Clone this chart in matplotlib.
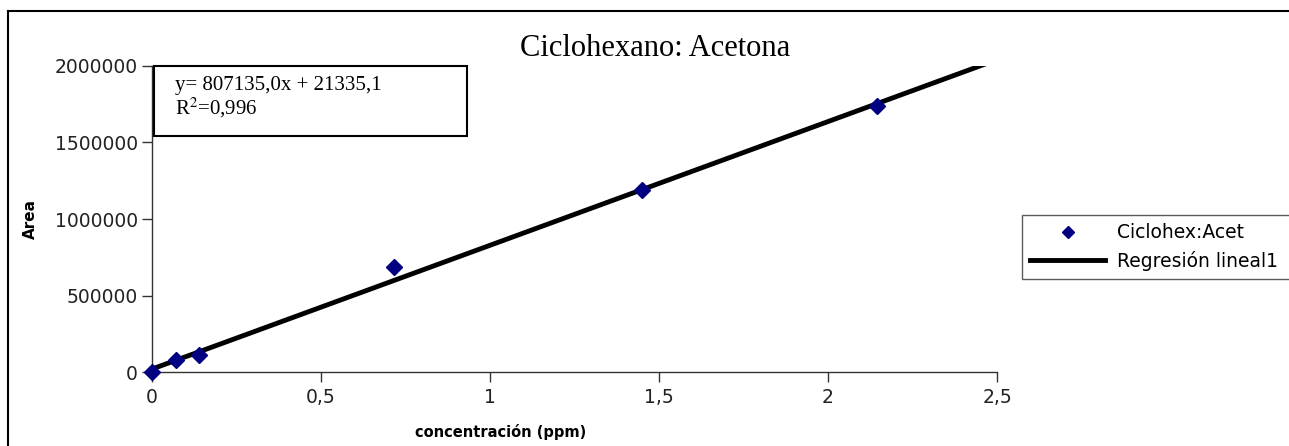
import numpy as np
import matplotlib
matplotlib.use('Agg')
import matplotlib.pyplot as plt
from matplotlib.lines import Line2D

# data
conc = [0.0, 0.071, 0.139, 0.717, 1.449, 2.145]
area = [0, 80000, 111000, 689000, 1190000, 1735000]
slope = 807135.0
intercept = 21335.1
x_ticks = [0, 0.5, 1, 1.5, 2, 2.5]
x_labels = ['0', '0,5', '1', '1,5', '2', '2,5']
y_ticks = [0, 500000, 1000000, 1500000, 2000000]

fig = plt.figure(figsize=(12.89, 4.46), dpi=100)
ax = fig.add_axes([0.1179, 0.1652, 0.6556, 0.6875])

fit_x = np.array([0, 2.5])
ax.plot(fit_x, slope * fit_x + intercept, color='black', lw=3.5, solid_capstyle='butt',
        label='Regresión lineal1', zorder=2)
ax.plot(conc, area, 'D', color='#000080', ms=8, mec='#000080', ls='none',
        label='Ciclohex:Acet', zorder=3, clip_on=False)

ax.set_xlim(0, 2.5)
ax.set_ylim(0, 2000000)
ax.set_xticks(x_ticks)
ax.set_xticklabels(x_labels)
ax.set_yticks(y_ticks)
ax.set_yticklabels([str(v) for v in y_ticks])
ax.tick_params(direction='out', length=7, width=1, colors='#333333', labelcolor='#222222',
               labelsize=13.5, pad=3)
ax.tick_params(axis='x', pad=4)
for s in ['top', 'right']:
    ax.spines[s].set_visible(False)
for s in ['left', 'bottom']:
    ax.spines[s].set_color('#333333')
    ax.spines[s].set_linewidth(1)

ax.set_ylabel('Area', fontsize=11, fontweight='bold', labelpad=12)
fig.text(501 / 1289, 1 - 432 / 446, 'concentración (ppm)', fontsize=10.5, fontweight='bold',
         ha='center', va='center')

fig.text(0.508, 0.892, 'Ciclohexano: Acetona', family='Liberation Serif', fontsize=22,
         ha='center', va='center')

# equation box
eq = 'y= 807135,0x + 21335,1\nR$^2$=0,996'
fig.text(0.1358, 0.78, eq, family='Liberation Serif', fontsize=15, va='center', ha='left',
         linespacing=1.0, math_fontfamily='stix')
fig.patches.append(plt.Rectangle((154 / 1289, 1 - 136 / 446), 313 / 1289, 70 / 446,
                                 transform=fig.transFigure, fill=False, ec='black', lw=1.5))

handles = [Line2D([], [], marker='D', color='#000080', ls='none', ms=6),
           Line2D([], [], color='black', lw=3.5)]
leg = fig.legend(handles, ['Ciclohex:Acet', 'Regresión lineal1'], loc='upper left',
                 bbox_to_anchor=(1022 / 1289, 1 - 215 / 446, 0.23, 0), mode='expand',
                 fontsize=13.5, frameon=True,
                 fancybox=False, edgecolor='#333333', borderaxespad=0, handlelength=4.0,
                 borderpad=0.45, labelspacing=0.45, handletextpad=0.6)
leg.get_frame().set_linewidth(1)

# outer frame (top and left edges)
fig.add_artist(Line2D([8 / 1289, 1], [1 - 11 / 446, 1 - 11 / 446], transform=fig.transFigure,
                      color='black', lw=1.5))
fig.add_artist(Line2D([8 / 1289, 8 / 1289], [0, 1 - 11 / 446], transform=fig.transFigure,
                      color='black', lw=1.5))

fig.savefig('out.png', dpi=100)
